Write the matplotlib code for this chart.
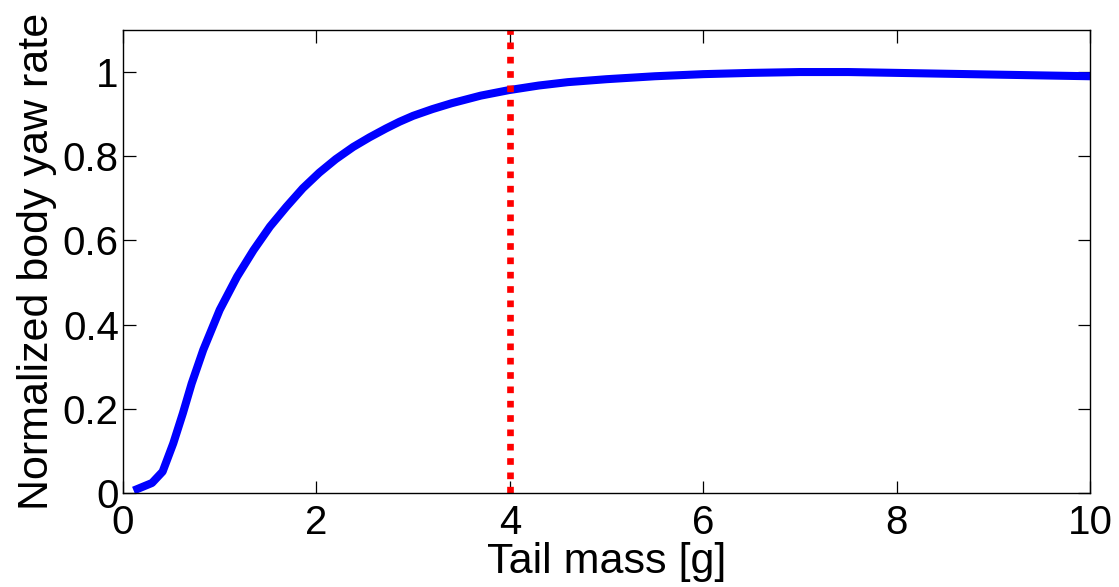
import numpy as np
import matplotlib
matplotlib.use('Agg')
import matplotlib.pyplot as plt

plt.rcParams['font.family'] = ['Liberation Sans', 'DejaVu Sans']

# curve
tail_mass = [0.11, 0.30, 0.41, 0.52, 0.62, 0.71, 0.83, 1.00, 1.18, 1.35, 1.52,
             1.69, 1.86, 2.03, 2.20, 2.38, 2.55, 2.72, 2.86, 3.00, 3.20, 3.40,
             3.70, 3.99, 4.30, 4.60, 5.00, 5.50, 6.00, 6.50, 7.00, 7.50, 8.00,
             8.50, 9.00, 9.50, 10.0]
yaw_rate = [0.006, 0.024, 0.051, 0.118, 0.190, 0.260, 0.340, 0.435, 0.514,
            0.577, 0.633, 0.680, 0.724, 0.761, 0.793, 0.822, 0.845, 0.866,
            0.882, 0.896, 0.912, 0.926, 0.944, 0.957, 0.968, 0.976, 0.983,
            0.990, 0.995, 0.998, 1.000, 1.000, 0.998, 0.996, 0.994, 0.992,
            0.990]
chosen_mass = 4.0

xticks = [0, 2, 4, 6, 8, 10]
yticks = [0, 0.2, 0.4, 0.6, 0.8, 1]
ytick_labels = ['0', '0.2', '0.4', '0.6', '0.8', '1']

fig = plt.figure(figsize=(11.19, 5.87), dpi=100)
ax = fig.add_axes([0.1099, 0.160, 0.8642, 0.789])

ax.plot(tail_mass, yaw_rate, color='#0000ff', lw=5.8, solid_capstyle='butt')
ax.plot([chosen_mass, chosen_mass], [0, 1.1], color='#ff0000', lw=4.8,
        linestyle=(0, (1.0, 1.15)), dash_capstyle='butt')

ax.set_xlim(0, 10)
ax.set_ylim(0, 1.1)
ax.set_xticks(xticks)
ax.set_yticks(yticks)
ax.set_yticklabels(ytick_labels)
ax.tick_params(direction='in', length=9, width=0.9, labelsize=29,
               top=True, right=True)
ax.tick_params(axis='x', pad=8)
ax.tick_params(axis='y', pad=3)
for s in ax.spines.values():
    s.set_linewidth(1.0)

ax.set_xlabel('Tail mass [g]', fontsize=31, labelpad=0)
ax.set_ylabel('Normalized body yaw rate', fontsize=31, labelpad=4)

fig.savefig('out.png', dpi=100)
